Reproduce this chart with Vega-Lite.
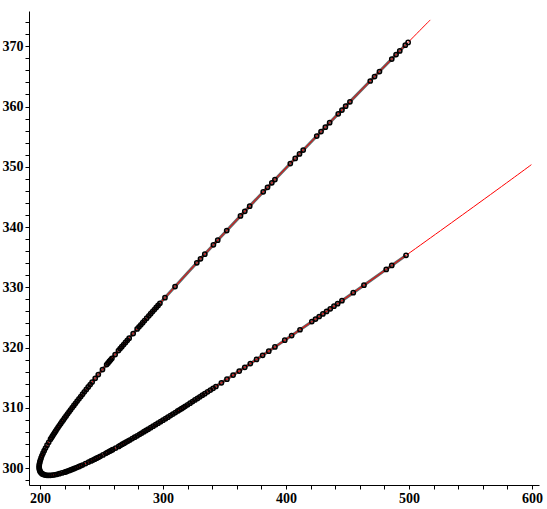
{
  "$schema": "https://vega.github.io/schema/vega-lite/v6.json",
  "width": 510,
  "height": 474,
  "autosize": {"type": "none"},
  "padding": {"left": 29, "top": 11, "right": 8, "bottom": 24},
  "background": "white",
  "datasets": {
    "curve": [
      {"order": 1, "x": 517.30, "y": 374.38},
      {"order": 2, "x": 513.90, "y": 373.68},
      {"order": 3, "x": 497.60, "y": 370.30},
      {"order": 4, "x": 481.55, "y": 366.97},
      {"order": 5, "x": 450.70, "y": 360.52},
      {"order": 6, "x": 421.51, "y": 354.37},
      {"order": 7, "x": 393.81, "y": 348.48},
      {"order": 8, "x": 367.79, "y": 342.89},
      {"order": 9, "x": 343.50, "y": 337.60},
      {"order": 10, "x": 320.96, "y": 332.62},
      {"order": 11, "x": 300.23, "y": 327.96},
      {"order": 12, "x": 281.33, "y": 323.63},
      {"order": 13, "x": 264.32, "y": 319.63},
      {"order": 14, "x": 249.22, "y": 315.96},
      {"order": 15, "x": 242.40, "y": 314.26},
      {"order": 16, "x": 236.07, "y": 312.64},
      {"order": 17, "x": 230.23, "y": 311.11},
      {"order": 18, "x": 224.89, "y": 309.67},
      {"order": 19, "x": 220.04, "y": 308.31},
      {"order": 20, "x": 215.70, "y": 307.05},
      {"order": 21, "x": 211.87, "y": 305.87},
      {"order": 22, "x": 208.54, "y": 304.78},
      {"order": 23, "x": 205.72, "y": 303.78},
      {"order": 24, "x": 203.41, "y": 302.88},
      {"order": 25, "x": 201.61, "y": 302.06},
      {"order": 26, "x": 200.33, "y": 301.33},
      {"order": 27, "x": 199.56, "y": 300.70},
      {"order": 28, "x": 199.30, "y": 300.15},
      {"order": 29, "x": 199.56, "y": 299.70},
      {"order": 30, "x": 200.33, "y": 299.33},
      {"order": 31, "x": 201.61, "y": 299.06},
      {"order": 32, "x": 203.41, "y": 298.88},
      {"order": 33, "x": 205.72, "y": 298.78},
      {"order": 34, "x": 208.54, "y": 298.78},
      {"order": 35, "x": 211.87, "y": 298.87},
      {"order": 36, "x": 215.70, "y": 299.05},
      {"order": 37, "x": 220.04, "y": 299.31},
      {"order": 38, "x": 224.89, "y": 299.67},
      {"order": 39, "x": 230.23, "y": 300.11},
      {"order": 40, "x": 236.07, "y": 300.64},
      {"order": 41, "x": 242.40, "y": 301.26},
      {"order": 42, "x": 249.22, "y": 301.96},
      {"order": 43, "x": 264.32, "y": 303.63},
      {"order": 44, "x": 281.33, "y": 305.63},
      {"order": 45, "x": 300.23, "y": 307.96},
      {"order": 46, "x": 320.96, "y": 310.62},
      {"order": 47, "x": 343.50, "y": 313.60},
      {"order": 48, "x": 367.79, "y": 316.89},
      {"order": 49, "x": 393.81, "y": 320.48},
      {"order": 50, "x": 421.51, "y": 324.37},
      {"order": 51, "x": 450.70, "y": 328.52},
      {"order": 52, "x": 481.55, "y": 332.97},
      {"order": 53, "x": 497.60, "y": 335.30},
      {"order": 54, "x": 513.90, "y": 337.68},
      {"order": 55, "x": 547.80, "y": 342.66},
      {"order": 56, "x": 583.10, "y": 347.89},
      {"order": 57, "x": 599.50, "y": 350.35}
    ],
    "pts": [
      {"x": 199.30, "y": 300.15}, {"x": 199.37, "y": 300.42}, {"x": 199.56, "y": 300.70}, {"x": 199.90, "y": 301.00},
      {"x": 200.33, "y": 301.33}, {"x": 200.90, "y": 301.68}, {"x": 201.61, "y": 302.06}, {"x": 202.45, "y": 302.46},
      {"x": 203.41, "y": 302.88}, {"x": 204.50, "y": 303.32}, {"x": 205.72, "y": 303.78}, {"x": 207.10, "y": 304.27},
      {"x": 208.54, "y": 304.78}, {"x": 209.37, "y": 305.05}, {"x": 210.20, "y": 305.32}, {"x": 211.03, "y": 305.60},
      {"x": 211.87, "y": 305.87}, {"x": 212.82, "y": 306.16}, {"x": 213.78, "y": 306.46}, {"x": 214.74, "y": 306.75},
      {"x": 215.70, "y": 307.05}, {"x": 216.78, "y": 307.36}, {"x": 217.87, "y": 307.68}, {"x": 218.95, "y": 307.99},
      {"x": 220.04, "y": 308.31}, {"x": 221.25, "y": 308.65}, {"x": 222.46, "y": 308.99}, {"x": 223.67, "y": 309.33},
      {"x": 224.89, "y": 309.67}, {"x": 226.22, "y": 310.03}, {"x": 227.56, "y": 310.39}, {"x": 228.90, "y": 310.75},
      {"x": 230.23, "y": 311.11}, {"x": 231.69, "y": 311.49}, {"x": 233.15, "y": 311.87}, {"x": 234.61, "y": 312.25},
      {"x": 236.07, "y": 312.64}, {"x": 237.65, "y": 313.04}, {"x": 239.23, "y": 313.45}, {"x": 240.81, "y": 313.85},
      {"x": 242.40, "y": 314.26},
      {"x": 199.43, "y": 299.93}, {"x": 199.56, "y": 299.70}, {"x": 199.95, "y": 299.52}, {"x": 200.33, "y": 299.33},
      {"x": 200.97, "y": 299.20}, {"x": 201.61, "y": 299.06}, {"x": 202.51, "y": 298.97}, {"x": 203.41, "y": 298.88},
      {"x": 204.57, "y": 298.83}, {"x": 205.72, "y": 298.78}, {"x": 207.13, "y": 298.78}, {"x": 208.54, "y": 298.78},
      {"x": 210.21, "y": 298.82}, {"x": 211.87, "y": 298.87}, {"x": 213.79, "y": 298.96}, {"x": 215.70, "y": 299.05},
      {"x": 217.87, "y": 299.18}, {"x": 220.04, "y": 299.31},
      {"x": 244.9, "y": 314.88}, {"x": 247.4, "y": 315.51}, {"x": 250.8, "y": 316.35}, {"x": 254.2, "y": 317.17},
      {"x": 255.35, "y": 317.45}, {"x": 256.5, "y": 317.73}, {"x": 257.5, "y": 317.97}, {"x": 258.5, "y": 318.21},
      {"x": 261.1, "y": 318.84}, {"x": 263.8, "y": 319.50}, {"x": 265.15, "y": 319.82}, {"x": 266.5, "y": 320.14},
      {"x": 268.0, "y": 320.50}, {"x": 269.5, "y": 320.85}, {"x": 271.0, "y": 321.20}, {"x": 272.5, "y": 321.55},
      {"x": 275.75, "y": 322.32}, {"x": 279.0, "y": 323.08}, {"x": 280.5, "y": 323.43}, {"x": 282.0, "y": 323.78},
      {"x": 283.5, "y": 324.12}, {"x": 285.0, "y": 324.47}, {"x": 286.75, "y": 324.87}, {"x": 288.5, "y": 325.27},
      {"x": 290.0, "y": 325.61}, {"x": 291.5, "y": 325.96}, {"x": 293.0, "y": 326.30}, {"x": 294.5, "y": 326.65},
      {"x": 296.0, "y": 326.99}, {"x": 297.5, "y": 327.33}, {"x": 301.6, "y": 328.27},
      {"x": 309.8, "y": 330.11}, {"x": 327.5, "y": 334.06}, {"x": 330.5, "y": 334.73}, {"x": 334.0, "y": 335.50},
      {"x": 341.0, "y": 337.05}, {"x": 344.5, "y": 337.82}, {"x": 351.8, "y": 339.41}, {"x": 363.0, "y": 341.85},
      {"x": 366.5, "y": 342.61}, {"x": 370.5, "y": 343.47}, {"x": 381.5, "y": 345.84}, {"x": 385.0, "y": 346.59},
      {"x": 388.5, "y": 347.34}, {"x": 391.0, "y": 347.88}, {"x": 403.5, "y": 350.54}, {"x": 407.5, "y": 351.39},
      {"x": 411.0, "y": 352.13}, {"x": 414.0, "y": 352.77}, {"x": 425.0, "y": 355.11}, {"x": 428.5, "y": 355.84},
      {"x": 432.0, "y": 356.58}, {"x": 435.5, "y": 357.32}, {"x": 442.5, "y": 358.79}, {"x": 445.5, "y": 359.42},
      {"x": 448.5, "y": 360.06}, {"x": 452.0, "y": 360.79}, {"x": 468.5, "y": 364.24}, {"x": 472.0, "y": 364.97},
      {"x": 476.0, "y": 365.81}, {"x": 486.0, "y": 367.89}, {"x": 489.5, "y": 368.62}, {"x": 492.5, "y": 369.24},
      {"x": 497.0, "y": 370.18}, {"x": 499.3, "y": 370.65},
      {"x": 221.3, "y": 299.40}, {"x": 222.5, "y": 299.49}, {"x": 224.0, "y": 299.60}, {"x": 225.5, "y": 299.72},
      {"x": 226.75, "y": 299.82}, {"x": 228.0, "y": 299.93}, {"x": 229.75, "y": 300.08}, {"x": 231.5, "y": 300.23},
      {"x": 233.0, "y": 300.36}, {"x": 234.5, "y": 300.50}, {"x": 237.0, "y": 300.73}, {"x": 239.5, "y": 300.98},
      {"x": 241.5, "y": 301.17}, {"x": 243.0, "y": 301.32}, {"x": 244.5, "y": 301.47},
      {"x": 246.0, "y": 301.63}, {"x": 247.5, "y": 301.78}, {"x": 249.0, "y": 301.94}, {"x": 251.2, "y": 302.17},
      {"x": 253.5, "y": 302.43}, {"x": 255.0, "y": 302.60}, {"x": 256.5, "y": 302.77}, {"x": 257.7, "y": 302.90},
      {"x": 259.0, "y": 303.04}, {"x": 261.5, "y": 303.31}, {"x": 264.0, "y": 303.59}, {"x": 265.5, "y": 303.77},
      {"x": 267.0, "y": 303.95}, {"x": 268.5, "y": 304.12}, {"x": 270.0, "y": 304.30}, {"x": 271.5, "y": 304.47},
      {"x": 273.0, "y": 304.65}, {"x": 275.0, "y": 304.88}, {"x": 277.0, "y": 305.12}, {"x": 279.0, "y": 305.35},
      {"x": 281.0, "y": 305.59}, {"x": 282.75, "y": 305.80}, {"x": 284.5, "y": 306.02}, {"x": 286.25, "y": 306.23},
      {"x": 288.0, "y": 306.45}, {"x": 290.0, "y": 306.70}, {"x": 292.0, "y": 306.95}, {"x": 294.0, "y": 307.19},
      {"x": 296.0, "y": 307.44}, {"x": 298.0, "y": 307.68}, {"x": 300.0, "y": 307.93}, {"x": 302.0, "y": 308.19},
      {"x": 304.0, "y": 308.44}, {"x": 306.0, "y": 308.70}, {"x": 308.0, "y": 308.96}, {"x": 310.0, "y": 309.21},
      {"x": 312.0, "y": 309.47}, {"x": 313.5, "y": 309.66}, {"x": 315.0, "y": 309.85}, {"x": 316.5, "y": 310.04},
      {"x": 318.0, "y": 310.24}, {"x": 320.0, "y": 310.50}, {"x": 322.0, "y": 310.76}, {"x": 324.0, "y": 311.02},
      {"x": 326.0, "y": 311.29}, {"x": 328.0, "y": 311.55}, {"x": 330.0, "y": 311.82}, {"x": 332.0, "y": 312.08},
      {"x": 334.0, "y": 312.34}, {"x": 336.25, "y": 312.64}, {"x": 338.5, "y": 312.94}, {"x": 340.75, "y": 313.23},
      {"x": 343.0, "y": 313.53}, {"x": 347.5, "y": 314.14}, {"x": 352.0, "y": 314.75}, {"x": 357.0, "y": 315.43},
      {"x": 362.0, "y": 316.10}, {"x": 366.5, "y": 316.71}, {"x": 371.0, "y": 317.33}, {"x": 376.0, "y": 318.02},
      {"x": 381.0, "y": 318.71}, {"x": 386.0, "y": 319.40}, {"x": 391.0, "y": 320.09}, {"x": 399.0, "y": 321.21},
      {"x": 404.6, "y": 321.99}, {"x": 411.4, "y": 322.95}, {"x": 421.0, "y": 324.30}, {"x": 424.0, "y": 324.72},
      {"x": 427.0, "y": 325.15}, {"x": 430.0, "y": 325.58}, {"x": 433.0, "y": 326.00}, {"x": 436.0, "y": 326.43},
      {"x": 439.0, "y": 326.86}, {"x": 442.0, "y": 327.28}, {"x": 445.5, "y": 327.78}, {"x": 454.7, "y": 329.10},
      {"x": 463.4, "y": 330.35}, {"x": 481.5, "y": 332.96}, {"x": 486.0, "y": 333.62}, {"x": 497.6, "y": 335.30}
    ]
  },
  "encoding": {
    "x": {
      "field": "x", "type": "quantitative",
      "scale": {"domain": [191.06, 605.7], "nice": false, "zero": false},
      "axis": {
        "title": null,
        "values": [200, 220, 240, 260, 280, 300, 320, 340, 360, 380, 400, 420, 440, 460, 480, 500, 520, 540, 560, 580, 600],
        "labelExpr": "datum.value % 100 === 0 ? datum.label : ''",
        "tickSize": 4,
        "labelPadding": 2,
        "encode": {"ticks": {"update": {"y2": {"signal": "datum.value % 100 === 0 ? 4 : 3"}}}}
      }
    },
    "y": {
      "field": "y", "type": "quantitative",
      "scale": {"domain": [297.18, 375.86], "nice": false, "zero": false},
      "axis": {
        "title": null,
        "values": [298, 300, 302, 304, 306, 308, 310, 312, 314, 316, 318, 320, 322, 324, 326, 328, 330, 332, 334, 336, 338, 340, 342, 344, 346, 348, 350, 352, 354, 356, 358, 360, 362, 364, 366, 368, 370, 372, 374],
        "labelExpr": "datum.value % 10 === 0 ? datum.label : ''",
        "tickSize": 4,
        "labelPadding": 2,
        "encode": {"ticks": {"update": {"x2": {"signal": "datum.value % 10 === 0 ? -4 : -3"}}}}
      }
    }
  },
  "layer": [
    {
      "data": {"name": "curve"},
      "transform": [{"filter": "datum.order >= 3 && datum.order <= 53"}],
      "mark": {"type": "line", "color": "black", "opacity": 0.6, "strokeWidth": 3, "interpolate": "catmull-rom"},
      "encoding": {"order": {"field": "order", "type": "quantitative"}}
    },
    {
      "data": {"name": "curve"},
      "mark": {"type": "line", "color": "#ff0000", "strokeWidth": 1, "interpolate": "catmull-rom"},
      "encoding": {"order": {"field": "order", "type": "quantitative"}}
    },
    {
      "data": {"name": "pts"},
      "mark": {"type": "point", "shape": "circle", "filled": false, "size": 18, "strokeWidth": 1.5, "color": "black", "opacity": 1}
    }
  ],
  "config": {
    "view": {"stroke": null},
    "axis": {
      "grid": false,
      "domainColor": "black",
      "domainWidth": 1,
      "tickColor": "black",
      "tickWidth": 1,
      "labelColor": "black",
      "labelFont": "Liberation Serif",
      "labelFontWeight": "bold",
      "labelFontSize": 14,
      "labelFlush": false,
      "labelOverlap": false
    }
  }
}
